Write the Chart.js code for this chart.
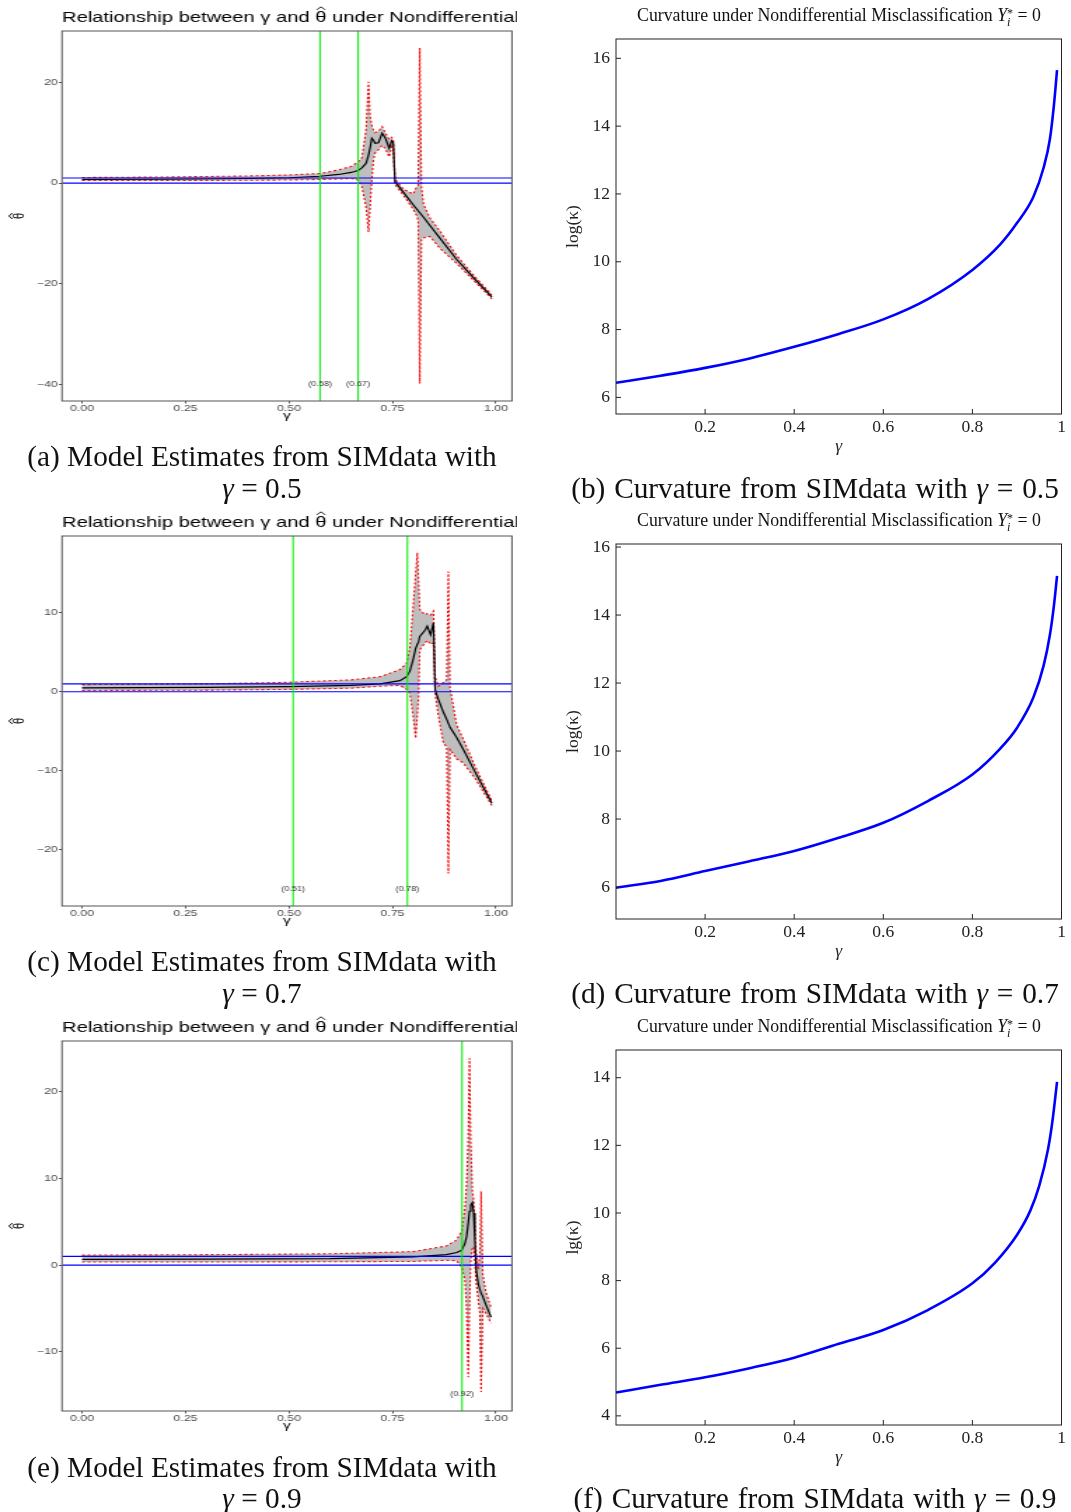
<!DOCTYPE html>
<html><head><meta charset="utf-8">
<script src="https://cdn.jsdelivr.net/npm/chart.js@4/dist/chart.umd.min.js"></script>
<style>
html,body{margin:0;padding:0;background:#fff;}
body{width:1071px;height:1512px;position:relative;overflow:hidden;}
canvas{position:absolute;}
.lc{transform:scaleX(1.40108);transform-origin:0 0;}
.cap{position:absolute;width:600px;font-family:"Liberation Serif",serif;font-size:29.3px;color:#111;text-align:center;white-space:nowrap;line-height:32px;}
.rt{position:absolute;width:600px;font-family:"Liberation Serif",serif;font-size:17.8px;color:#111;text-align:center;white-space:nowrap;line-height:20px;}
.ss{display:inline-block;vertical-align:-0.45em;font-size:0.68em;line-height:0.8em;text-align:left;}
.ss span{display:block;}
</style></head><body>
<canvas id="ca" class="lc" width="369" height="430" style="left:0;top:0"></canvas>
<canvas id="cc" class="lc" width="369" height="430" style="left:0;top:505px"></canvas>
<canvas id="ce" class="lc" width="369" height="430" style="left:0;top:1010px"></canvas>
<canvas id="cb" width="511" height="460" style="left:560px;top:0"></canvas>
<canvas id="cd" width="511" height="460" style="left:560px;top:505px"></canvas>
<canvas id="cf" width="511" height="460" style="left:560px;top:1011px"></canvas>

<div class="rt" style="left:539px;top:5px">Curvature under Nondifferential Misclassification <i>Y</i><span class="ss"><span>*</span><span><i>i</i></span></span> = 0</div>
<div class="rt" style="left:539px;top:510px">Curvature under Nondifferential Misclassification <i>Y</i><span class="ss"><span>*</span><span><i>i</i></span></span> = 0</div>
<div class="rt" style="left:539px;top:1016px">Curvature under Nondifferential Misclassification <i>Y</i><span class="ss"><span>*</span><span><i>i</i></span></span> = 0</div>

<div class="cap" style="left:-38px;top:440px">(a) Model Estimates from SIMdata with</div>
<div class="cap" style="left:-38px;top:472px"><i>γ</i> = 0.5</div>
<div class="cap" style="left:515px;top:472px;word-spacing:1.5px">(b) Curvature from SIMdata with <i>γ</i> = 0.5</div>
<div class="cap" style="left:-38px;top:945px">(c) Model Estimates from SIMdata with</div>
<div class="cap" style="left:-38px;top:977px"><i>γ</i> = 0.7</div>
<div class="cap" style="left:515px;top:977px;word-spacing:1.5px">(d) Curvature from SIMdata with <i>γ</i> = 0.7</div>
<div class="cap" style="left:-38px;top:1451px">(e) Model Estimates from SIMdata with</div>
<div class="cap" style="left:-38px;top:1482px"><i>γ</i> = 0.9</div>
<div class="cap" style="left:515px;top:1482px;word-spacing:1.5px">(f) Curvature from SIMdata with <i>γ</i> = 0.9</div>

<script>
// ---------- tick labels ----------
const xTicksLeft = [0, 0.25, 0.5, 0.75, 1.0];
const xTicksRight = [0.2, 0.4, 0.6, 0.8, 1];
const yTicksA = [20, 0, -20, -40];
const yTicksC = [10, 0, -10, -20];
const yTicksE = [20, 10, 0, -10];
const yTicksB = [6, 8, 10, 12, 14, 16];
const yTicksD = [6, 8, 10, 12, 14, 16];
const yTicksF = [4, 6, 8, 10, 12, 14];

// ---------- reference lines ----------
const hLines = [0, 1];
const vLinesA = [0.575, 0.667];  const vLabelsA = ['(0.58)', '(0.67)'];
const vLinesC = [0.510, 0.786];  const vLabelsC = ['(0.51)', '(0.78)'];
const vLinesE = [0.918];         const vLabelsE = ['(0.92)'];

// ---------- panel (a): gamma = 0.5 ----------
const gammaA = [0, 0.2, 0.4, 0.5, 0.575, 0.62, 0.65, 0.667, 0.676, 0.686, 0.692, 0.696, 0.70, 0.704, 0.708, 0.716, 0.725, 0.733, 0.742, 0.748, 0.752, 0.756, 0.776, 0.80, 0.808, 0.812, 0.816, 0.82, 0.825, 0.84, 0.865, 0.905, 0.95, 0.99];
const lowerA = [0.5, 0.5, 0.55, 0.6, 0.7, 0.8, 0.9, 0.6, -0.7, -4.7, -9.7, -4.7, 0.6, 4.6, 6.0, 6.6, 7.5, 6.8, 5.2, 7.2, 6.5, -0.3, -2.4, -5.2, -6.4, -7.4, -39.8, -11.0, -10.9, -10.6, -13.0, -16.0, -19.7, -23.0];
const meanA  = [0.7, 0.75, 0.9, 1.05, 1.35, 1.7, 2.1, 2.5, 3.0, 3.9, 5.5, 7.0, 8.9, 8.5, 7.9, 8.0, 9.9, 8.9, 6.9, 8.4, 8.0, 0.3, -1.8, -4.3, -5.1, -5.5, -5.9, -6.3, -6.8, -8.4, -11.0, -15.2, -19.2, -22.6];
const upperA = [1.1, 1.2, 1.4, 1.6, 1.9, 2.6, 3.3, 4.2, 5.0, 10.5, 20.1, 13.2, 11.5, 10.5, 10.0, 10.3, 11.2, 9.9, 8.7, 9.1, 8.5, 0.8, -1.2, -2.2, -0.8, -0.5, 26.8, -0.7, -4.2, -6.9, -9.6, -14.4, -18.7, -22.2];

// ---------- panel (c): gamma = 0.7 ----------
const gammaC = [0, 0.3, 0.5, 0.65, 0.72, 0.768, 0.784, 0.792, 0.80, 0.806, 0.81, 0.813, 0.816, 0.829, 0.834, 0.842, 0.849, 0.853, 0.861, 0.873, 0.881, 0.885, 0.889, 0.905, 0.921, 0.95, 0.99];
const lowerC = [0.16, 0.2, 0.3, 0.45, 0.7, 0.8, 0.3, -0.2, -3.1, -5.9, -3.0, -0.6, 5.3, 6.2, 6.5, 6.0, 6.2, -0.2, -3.1, -6.5, -7.0, -23.0, -7.3, -8.5, -9.0, -11.0, -14.4];
const meanC  = [0.5, 0.55, 0.65, 0.8, 1.0, 1.4, 1.9, 2.6, 4.1, 5.5, 6.0, 6.3, 7.0, 7.8, 8.3, 7.2, 8.7, 0.25, -1.0, -2.6, -3.5, -4.0, -4.5, -5.8, -7.3, -10.2, -14.1];
const upperC = [0.9, 1.0, 1.2, 1.5, 1.9, 2.8, 3.6, 5.5, 10.8, 15.0, 17.6, 14.0, 10.4, 9.7, 9.9, 9.7, 10.2, 1.9, 0.7, 1.2, 1.5, 15.2, 0.5, -4.2, -6.0, -9.5, -13.8];

// ---------- panel (e): gamma = 0.9 ----------
const gammaE = [0, 0.3, 0.6, 0.8, 0.88, 0.905, 0.917, 0.925, 0.929, 0.933, 0.936, 0.939, 0.943, 0.946, 0.949, 0.952, 0.957, 0.961, 0.964, 0.968, 0.975, 0.988];
const lowerE = [0.35, 0.35, 0.38, 0.42, 0.55, 0.5, -0.2, -1.7, -5.0, -12.9, -5.0, 0.5, 2.0, 2.1, 0.5, -2.0, -4.0, -5.5, -14.6, -5.0, -5.5, -6.7];
const meanE  = [0.65, 0.68, 0.75, 0.95, 1.2, 1.45, 1.7, 2.5, 3.3, 4.8, 6.2, 6.9, 7.2, 6.0, 3.0, -0.5, -2.1, -2.8, -3.2, -3.6, -4.5, -6.0];
const upperE = [1.15, 1.2, 1.3, 1.55, 2.2, 2.9, 3.9, 6.5, 9.4, 14.5, 23.8, 14.4, 8.5, 7.5, 5.0, 1.5, -0.5, 1.5, 8.5, -1.0, -3.0, -4.9];

// ---------- curvature panels (b), (d), (f) ----------
const gammaBD = [0, 0.1, 0.2, 0.3, 0.4, 0.5, 0.6, 0.7, 0.8, 0.863, 0.9, 0.937, 0.96, 0.974, 0.983, 0.99];
const curvB = [6.43, 6.64, 6.87, 7.15, 7.49, 7.87, 8.30, 8.90, 9.76, 10.52, 11.14, 11.92, 12.78, 13.62, 14.62, 15.65];
const curvD = [5.98, 6.18, 6.47, 6.76, 7.06, 7.45, 7.89, 8.53, 9.31, 10.08, 10.68, 11.58, 12.52, 13.42, 14.28, 15.15];
const gammaF = [0, 0.1, 0.2, 0.3, 0.4, 0.5, 0.6, 0.7, 0.8, 0.85, 0.9, 0.93, 0.95, 0.97, 0.98, 0.99];
const curvF = [4.69, 4.92, 5.14, 5.41, 5.72, 6.13, 6.54, 7.13, 7.92, 8.52, 9.35, 10.07, 10.80, 11.90, 12.75, 13.88];

const SANS = '"Liberation Sans", Arial, sans-serif';

function drawHat(ctx, cx, yTop, w, h) {
  ctx.beginPath();
  ctx.moveTo(cx - w / 2, yTop + h);
  ctx.lineTo(cx, yTop);
  ctx.lineTo(cx + w / 2, yTop + h);
  ctx.stroke();
}

const leftPlugin = {
  id: 'refs',
  afterDatasetsDraw(chart, args, o) {
    const {ctx, chartArea: a, scales: {x, y}} = chart;
    ctx.save();
    ctx.beginPath(); ctx.rect(a.left, a.top, a.width, a.height); ctx.clip();
    ctx.strokeStyle = '#0000ff'; ctx.lineWidth = 1.2;
    o.h.forEach(v => { const py = y.getPixelForValue(v); ctx.beginPath(); ctx.moveTo(a.left, py); ctx.lineTo(a.right, py); ctx.stroke(); });
    ctx.strokeStyle = '#00f000'; ctx.lineWidth = 1.05;
    o.v.forEach(v => { const px = x.getPixelForValue(v); ctx.beginPath(); ctx.moveTo(px, a.top); ctx.lineTo(px, a.bottom); ctx.stroke(); });
    ctx.fillStyle = '#333'; ctx.font = '6.5px ' + SANS;
    ctx.textAlign = 'center'; ctx.textBaseline = 'middle';
    o.v.forEach((v, i) => ctx.fillText(o.labels[i], x.getPixelForValue(v), y.getPixelForValue(o.labelY)));
    ctx.restore();

    ctx.save();
    ctx.strokeStyle = '#555'; ctx.lineWidth = 1;
    ctx.strokeRect(a.left, a.top, a.width, a.height);
    // title, with a hat drawn over theta
    ctx.fillStyle = '#000'; ctx.strokeStyle = '#000'; ctx.lineWidth = 0.9;
    ctx.font = '14.4px ' + SANS;
    ctx.textAlign = 'left'; ctx.textBaseline = 'alphabetic';
    const base = 21.5;
    let xx = a.left;
    const p1 = 'Relationship between \u03b3 and ';
    ctx.fillText(p1, xx, base); xx += ctx.measureText(p1).width;
    ctx.fillText('\u03b8', xx, base);
    const tw = ctx.measureText('\u03b8').width;
    drawHat(ctx, xx + tw / 2, base - 14.7, tw * 0.75, 3);
    xx += tw;
    ctx.fillText(' under Nondifferential Misclassification', xx, base);
    // y axis title (rotated theta-hat)
    ctx.translate(13.6, (a.top + a.bottom) / 2);
    ctx.rotate(-Math.PI / 2);
    ctx.font = '11px ' + SANS;
    ctx.textAlign = 'center'; ctx.textBaseline = 'middle';
    ctx.fillText('\u03b8', 0, 0.5);
    drawHat(ctx, 0, -7.2, 6, 2.4);
    ctx.restore();
  }
};

function leftChart(id, g, lo, mu, hi, yMin, yMax, yTicks, vLines, vLabels, labelY) {
  const pts = arr => g.map((gx, i) => ({x: gx, y: arr[i]}));
  const tickFont = {family: SANS, size: 8.8};
  new Chart(document.getElementById(id), {
    type: 'line',
    data: {datasets: [
      {data: pts(mu), borderColor: '#000', borderWidth: 1.2, pointRadius: 0, fill: false, order: 0},
      {data: pts(hi), borderColor: '#ff0000', borderWidth: 1.1, borderDash: [2, 2], pointRadius: 0, fill: {target: 2}, backgroundColor: '#bebebe', order: 1},
      {data: pts(lo), borderColor: '#ff0000', borderWidth: 1.1, borderDash: [2, 2], pointRadius: 0, fill: false, order: 2}
    ]},
    options: {
      responsive: false, animation: false, events: [],
      layout: {padding: {left: 0, right: 3.6, top: 31, bottom: 0}},
      plugins: {legend: {display: false}, tooltip: {enabled: false},
        filler: {drawTime: 'beforeDatasetsDraw'},
        refs: {h: hLines, v: vLines, labels: vLabels, labelY: labelY}},
      scales: {
        x: {type: 'linear', min: -0.0483, max: 1.0386,
          afterBuildTicks: s => { s.ticks = xTicksLeft.map(v => ({value: v})); },
          afterFit: s => { s.height = 29; },
          grid: {display: true, drawOnChartArea: false, drawTicks: true, tickLength: 2.5, color: '#333', lineWidth: 0.8},
          border: {display: false},
          ticks: {padding: 0, color: '#4d4d4d', font: tickFont, maxRotation: 0, autoSkip: false, callback: v => Number(v).toFixed(2)},
          title: {display: true, text: '\u03b3', color: '#000', font: {family: SANS, size: 11}, padding: {top: 0, bottom: 7}}
        },
        y: {type: 'linear', min: yMin, max: yMax,
          afterBuildTicks: s => { s.ticks = yTicks.map(v => ({value: v})); },
          afterFit: s => { s.width = 44.25; },
          grid: {display: true, drawOnChartArea: false, drawTicks: true, tickLength: 2, color: '#333', lineWidth: 1},
          border: {display: false},
          ticks: {padding: 1, color: '#4d4d4d', font: tickFont, autoSkip: false, callback: v => String(v).replace('-', '\u2212')},
          title: {display: false}
        }
      }
    },
    plugins: [leftPlugin]
  });
}

const rightPlugin = {
  id: 'rbox',
  afterDatasetsDraw(chart) {
    const {ctx, chartArea: a, scales: {x, y}} = chart;
    ctx.save();
    ctx.strokeStyle = '#222'; ctx.lineWidth = 1;
    ctx.strokeRect(a.left, a.top, a.width, a.height);
    ctx.beginPath();
    x.ticks.forEach(t => { const px = x.getPixelForValue(t.value); ctx.moveTo(px, a.bottom); ctx.lineTo(px, a.bottom - 5); });
    y.ticks.forEach(t => { const py = y.getPixelForValue(t.value); ctx.moveTo(a.left, py); ctx.lineTo(a.left + 5, py); });
    ctx.stroke();
    ctx.restore();
  }
};

function rightChart(id, g, v, yMin, yMax, yTicks, yTitle) {
  const serif = '"Liberation Serif", "Times New Roman", serif';
  new Chart(document.getElementById(id), {
    type: 'line',
    data: {datasets: [{data: g.map((gx, i) => ({x: gx, y: v[i]})), borderColor: '#0000ff', borderWidth: 2.6, pointRadius: 0, cubicInterpolationMode: 'monotone', fill: false}]},
    options: {
      responsive: false, animation: false, events: [],
      layout: {padding: {left: 0, right: 9.5, top: 39, bottom: 0}},
      plugins: {legend: {display: false}, tooltip: {enabled: false}},
      scales: {
        x: {type: 'linear', min: 0, max: 1,
          afterBuildTicks: s => { s.ticks = xTicksRight.map(t => ({value: t})); },
          afterFit: s => { s.height = 46; },
          grid: {display: false, drawTicks: false}, border: {display: false},
          ticks: {padding: 3, color: '#222', font: {family: serif, size: 17.5}, maxRotation: 0, autoSkip: false, callback: t => String(Math.round(t * 10) / 10)},
          title: {display: true, text: '\u03b3', color: '#222', font: {family: serif, size: 17.5, style: 'italic'}, padding: {top: 0, bottom: 3}}
        },
        y: {type: 'linear', min: yMin, max: yMax,
          afterBuildTicks: s => { s.ticks = yTicks.map(t => ({value: t})); },
          afterFit: s => { s.width = 56; },
          grid: {display: false, drawTicks: false}, border: {display: false},
          ticks: {padding: 6, color: '#222', font: {family: serif, size: 17.5}, autoSkip: false},
          title: {display: true, text: yTitle, color: '#222', font: {family: serif, size: 17.5}, padding: {top: 3, bottom: 0}}
        }
      }
    },
    plugins: [rightPlugin]
  });
}

leftChart('ca', gammaA, lowerA, meanA, upperA, -43.3, 30.2, yTicksA, vLinesA, vLabelsA, -40);
leftChart('cc', gammaC, lowerC, meanC, upperC, -27.1, 19.7, yTicksC, vLinesC, vLabelsC, -25);
leftChart('ce', gammaE, lowerE, meanE, upperE, -16.8, 25.8, yTicksE, vLinesE, vLabelsE, -14.9);
rightChart('cb', gammaBD, curvB, 5.51, 16.57, yTicksB, 'log(\u03ba)');
rightChart('cd', gammaBD, curvD, 5.06, 16.09, yTicksD, 'log(\u03ba)');
rightChart('cf', gammaF, curvF, 3.73, 14.82, yTicksF, 'lg(\u03ba)');
</script>
</body></html>
